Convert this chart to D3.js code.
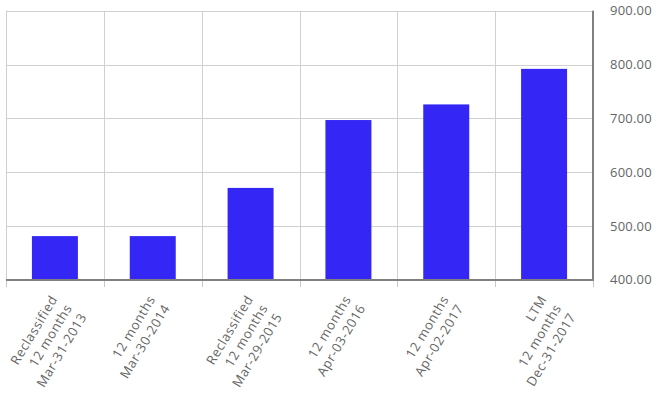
<!DOCTYPE html>
<html>
<head>
<meta charset="utf-8">
<script src="https://cdn.jsdelivr.net/npm/d3@7"></script>
<style>
  html, body { margin: 0; padding: 0; background: #fff; }
  svg { display: block; font-family: "Open Sans", sans-serif; }
</style>
</head>
<body>
<svg id="chart" width="661" height="398"></svg>
<script>
// Period labels (one array entry per line of each label)
const categories = [
  ["Reclassified", "12 months", "Mar-31-2013"],
  ["12 months", "Mar-30-2014"],
  ["Reclassified", "12 months", "Mar-29-2015"],
  ["12 months", "Apr-03-2016"],
  ["12 months", "Apr-02-2017"],
  ["LTM", "12 months", "Dec-31-2017"]
];
const values = [481.5, 481.5, 571, 697, 726, 792];
const yTicks = [400, 500, 600, 700, 800, 900];

const svg = d3.select("#chart");
const plot = { left: 6, right: 593, top: 10.7, bottom: 280 };

const x = d3.scaleBand()
  .domain(d3.range(categories.length))
  .range([plot.left, plot.right])
  .paddingInner(0)
  .paddingOuter(0);

const y = d3.scaleLinear()
  .domain([400, 900])
  .range([plot.bottom, plot.top]);

// horizontal grid
svg.append("g")
  .selectAll("line")
  .data(yTicks)
  .join("line")
  .attr("x1", plot.left).attr("x2", plot.right)
  .attr("y1", d => Math.round(y(d)) + 0.5).attr("y2", d => Math.round(y(d)) + 0.5)
  .attr("stroke", "#d0d0d0").attr("stroke-width", 1);

// vertical grid at category boundaries
const bounds = d3.range(categories.length + 1).map(i => i < categories.length ? x(i) : plot.right);
svg.append("g")
  .selectAll("line")
  .data(bounds)
  .join("line")
  .attr("x1", d => Math.round(d) + 0.5).attr("x2", d => Math.round(d) + 0.5)
  .attr("y1", plot.top).attr("y2", plot.bottom)
  .attr("stroke", "#d0d0d0").attr("stroke-width", 1);

// tick marks below the baseline
svg.append("g")
  .selectAll("line")
  .data(bounds)
  .join("line")
  .attr("x1", d => Math.round(d) + 0.5).attr("x2", d => Math.round(d) + 0.5)
  .attr("y1", plot.bottom).attr("y2", plot.bottom + 7)
  .attr("stroke", "#c8c8c8").attr("stroke-width", 1);

// bars
const barW = x.bandwidth() * 0.47;
svg.append("g")
  .selectAll("rect")
  .data(values)
  .join("rect")
  .attr("x", (d, i) => x(i) + (x.bandwidth() - barW) / 2)
  .attr("y", d => y(d))
  .attr("width", barW)
  .attr("height", d => y(400) - y(d))
  .attr("fill", "#3427f5");

// baseline and right axis line
svg.append("line")
  .attr("x1", plot.left).attr("x2", plot.right + 1)
  .attr("y1", plot.bottom).attr("y2", plot.bottom)
  .attr("stroke", "#808080").attr("stroke-width", 2);
svg.append("line")
  .attr("x1", plot.right).attr("x2", plot.right)
  .attr("y1", plot.top).attr("y2", plot.bottom + 1)
  .attr("stroke", "#808080").attr("stroke-width", 2);

// right-side value axis labels
svg.append("g")
  .selectAll("text")
  .data(yTicks)
  .join("text")
  .attr("x", 610)
  .attr("y", d => y(d) + 1)
  .attr("dominant-baseline", "middle")
  .attr("font-size", 13)
  .attr("letter-spacing", 0.2)
  .attr("fill", "#666")
  .text(d => d3.format(".2f")(d));

// rotated multi-line category labels
const lbl = svg.append("g")
  .selectAll("text")
  .data(categories)
  .join("text")
  .attr("transform", (d, i) => `translate(${x(i) + x.bandwidth() / 2 + 3},${plot.bottom + 19}) rotate(-59)`)
  .attr("text-anchor", "end")
  .attr("font-size", 13)
  .attr("letter-spacing", 0.6)
  .attr("fill", "#666");
lbl.selectAll("tspan")
  .data(d => d)
  .join("tspan")
  .attr("x", 0)
  .attr("y", (d, i) => i * 17)
  .text(d => d);
</script>
</body>
</html>
